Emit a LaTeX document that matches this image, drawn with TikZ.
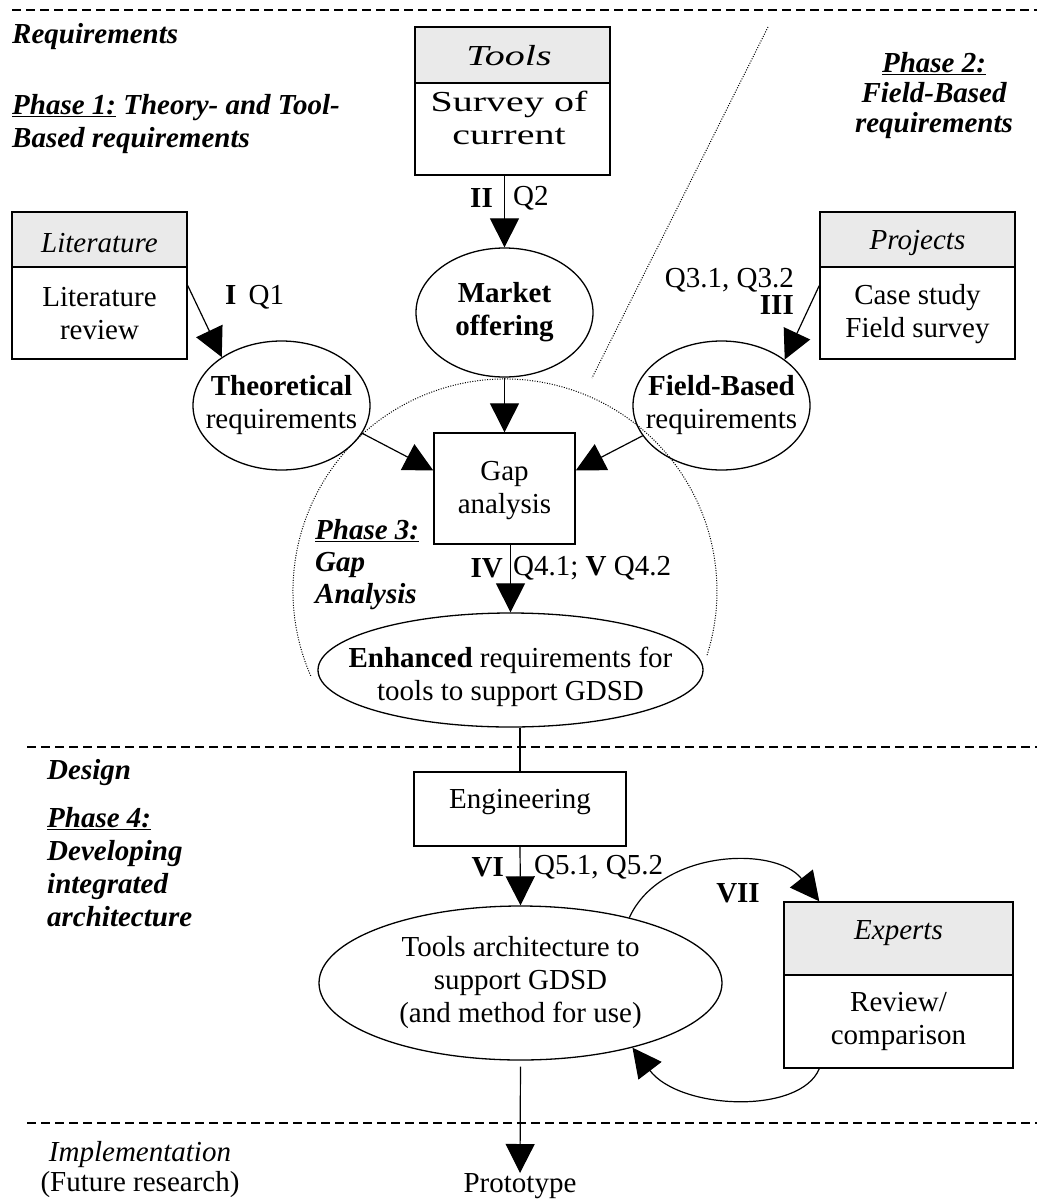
\documentclass[tikz,border=0pt]{standalone}
\usepackage{graphicx}
\usepackage{fontspec}
\setmainfont{Liberation Serif}
\usetikzlibrary{arrows.meta,shapes.geometric,calc}
\definecolor{hdrgray}{HTML}{EAEAEA}
\newcommand{\wide}[1]{\scalebox{1.38}[1]{#1}}
\begin{document}
\begin{tikzpicture}[x=1pt,y=-1pt,
  every node/.style={font=\fontsize{29}{33}\selectfont, inner sep=0pt},
  bi/.style={font=\fontsize{29}{33}\selectfont\bfseries\itshape},
  box/.style={draw, line width=1.4pt, rectangle},
  hdr/.style={draw, line width=1.4pt, fill=hdrgray, rectangle},
  ell/.style={draw, line width=1.3pt, ellipse},
  arr/.style={-{Triangle[length=29pt,width=29pt]}, line width=1.2pt},
  conn/.style={line width=1.2pt},
  sep/.style={dash pattern=on 9pt off 5pt, line width=1.2pt},
  dots/.style={line width=1pt, dash pattern=on 1pt off 1.5pt}]

\fill[white] (0,0) rectangle (1037,1200);
\useasboundingbox (0,0) rectangle (1037,1200);

% separators
\draw[sep] (12,10) -- (1037,10);
\draw[sep] (27,747) -- (1037,747);
\draw[sep] (27,1123) -- (1037,1123);

% dotted guides
\draw[dots] (768,27) -- (592,378);
\draw[dots] (505,591) ++(156.4:212) arc[start angle=156.4, end angle=377.6, radius=212];

% left-side texts
\node[bi, anchor=west] (reqL) at (12,37) {Requirements};
\node[bi, anchor=north west, align=left] (ph1) at (12,94) {\underline{Phase 1:} Theory- and Tool-\\Based requirements};
\node[bi, anchor=north, align=center, font=\fontsize{29}{30}\selectfont\bfseries\itshape] (ph2) at (934,52) {\underline{Phase 2:}\\Field-Based\\requirements};
\node[bi, anchor=north west, align=left, font=\fontsize{29}{32}\selectfont\bfseries\itshape] (ph3) at (315,519) {\underline{Phase 3:}\\Gap\\Analysis};
\node[bi, anchor=west] (desL) at (47,773) {Design};
\node[bi, anchor=north west, align=left] (ph4) at (47,807) {\underline{Phase 4:}\\Developing\\integrated\\architecture};
\node[anchor=north, align=center, font=\fontsize{29}{30}\selectfont] (impL) at (140,1141) {\textit{Implementation}\\(Future research)};

% Tools box
\node[box, minimum width=195pt, minimum height=148pt] (tools) at (512.5,101) {};
\node[hdr, minimum width=195pt, minimum height=56pt] (toolsH) at (512.5,55) {};
\node (toolsHT) at (509,56) {\wide{\textit{Tools}}};
\node[align=center] (toolsT) at (509,118) {\wide{Survey of}\\\wide{current}};

% Literature box
\node[box, minimum width=175pt, minimum height=147pt] (lit) at (99.5,285.5) {};
\node[hdr, minimum width=175pt, minimum height=55pt] (litH) at (99.5,239.5) {};
\node (litHT) at (99.5,243) {\textit{Literature}};
\node[align=center] (litT) at (99.5,314) {Literature\\review};

% Projects box
\node[box, minimum width=195pt, minimum height=147pt] (proj) at (917.5,285.5) {};
\node[hdr, minimum width=195pt, minimum height=55pt] (projH) at (917.5,239.5) {};
\node (projHT) at (917.5,243) {\textit{Projects}};
\node[align=center] (projT) at (917.5,314) {Case study\\Field survey};

% Experts box
\node[box, minimum width=229pt, minimum height=166pt] (exp) at (898.5,985) {};
\node[hdr, minimum width=229pt, minimum height=73pt] (expH) at (898.5,938.5) {};
\node (expHT) at (898.5,933) {\textit{Experts}};
\node[align=center] (expT) at (898.5,1021.5) {Review/\\comparison};

% ellipses and boxes of the flow
\node[ell, minimum width=177pt, minimum height=129pt] (market) at (504.5,312.5) {};
\node[align=center] (marketT) at (504.5,312.5) {\textbf{Market}\\\textbf{offering}};

\node[ell, minimum width=177pt, minimum height=129pt] (theo) at (281.5,405.5) {};
\node[align=center] (theoT) at (281.5,405) {\textbf{Theoretical}\\requirements};

\node[ell, minimum width=177pt, minimum height=129pt] (field) at (721.5,405.5) {};
\node[align=center] (fieldT) at (721.5,405) {\textbf{Field-Based}\\requirements};

\node[box, minimum width=141pt, minimum height=111pt] (gap) at (504.5,488.5) {};
\node[align=center] (gapT) at (504.5,491) {Gap\\analysis};

\node[ell, minimum width=385pt, minimum height=114pt] (enh) at (510.5,670) {};
\node[align=center] (enhT) at (510.5,677) {\textbf{Enhanced} requirements for\\tools to support GDSD};

\node[box, minimum width=212pt, minimum height=74pt] (eng) at (520,809) {};
\node (engT) at (520,802) {Engineering};

\node[ell, minimum width=403pt, minimum height=154pt] (arch) at (520.5,983) {};
\node[align=center] (archT) at (520.5,983) {Tools architecture to\\support GDSD\\(and method for use)};

\node[anchor=north] (proto) at (520,1173) {Prototype};

% connectors
\draw[arr] (market.north |- tools.south) -- (market.north);
\draw[arr] (lit.east) -- (theo.141);
\draw[arr] (proj.west) -- (field.36);
\draw[arr] (market.south) -- (gap.north);
\draw[arr] (theo.-19) -- ([yshift=18pt]gap.west);
\draw[arr] (field.201) -- ([yshift=18pt]gap.east);
\draw[arr] (enh.north |- gap.south) -- (enh.north);
\draw[conn] (eng.north |- enh.south) -- (eng.north);
\draw[arr] (eng.south) -- (arch.north);
\draw[arr, shorten <=6pt] (arch.south) -- (proto.north);
\draw[arr] (arch.31) .. controls (660,850) and (775,845) .. ([xshift=36pt]exp.north west);
\draw[arr] ([xshift=36pt]exp.south west) .. controls (800,1115) and (680,1110) .. (arch.330);

% connector labels
\node[anchor=east] (lII) at (493,198) {\textbf{II}};
\node[anchor=west] (lQ2) at (513,198) {Q2};
\node[anchor=west] (lI) at (225,297) {\textbf{I}\, Q1};
\node[anchor=east] (lQ3) at (794,280) {Q3.1, Q3.2};
\node[anchor=east] (lIII) at (794,305) {\textbf{III}};
\node[anchor=east] (lIV) at (503,568) {\textbf{IV}};
\node[anchor=west] (lQ4) at (513,568) {Q4.1; \textbf{V} Q4.2};
\node[anchor=east] (lVI) at (504,867) {\textbf{VI}};
\node[anchor=west] (lQ5) at (534,867) {Q5.1, Q5.2};
\node (lVII) at (738,893) {\textbf{VII}};
\end{tikzpicture}
\end{document}
